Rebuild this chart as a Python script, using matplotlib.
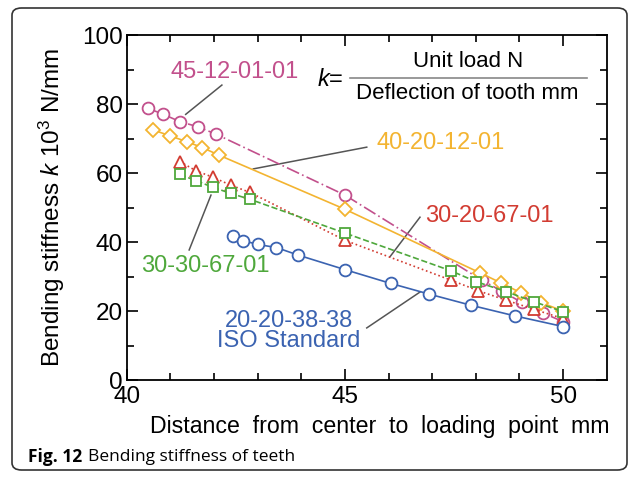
import numpy as np
import matplotlib.pyplot as plt
from matplotlib.patches import FancyBboxPatch

plt.rcParams['font.family'] = 'Liberation Sans'
plt.rcParams['mathtext.fontset'] = 'custom'
plt.rcParams['mathtext.rm'] = 'Liberation Sans'
plt.rcParams['mathtext.it'] = 'Liberation Sans:italic'

# data
x_451201 = [40.48, 40.84, 41.22, 41.63, 42.04, 45.0, 48.13, 48.59, 49.05, 49.53, 50.0]
y_451201 = [78.8, 77.0, 74.9, 73.4, 71.3, 53.6, 29.0, 25.8, 22.5, 19.5, 16.9]
x_402012 = [40.6, 40.99, 41.37, 41.73, 42.11, 45.0, 48.09, 48.57, 49.03, 49.5, 50.0]
y_402012 = [72.5, 70.8, 69.1, 67.4, 65.2, 49.5, 31.1, 28.2, 25.3, 22.4, 20.0]
x_302067 = [41.22, 41.58, 41.97, 42.38, 42.82, 45.0, 47.42, 48.05, 48.68, 49.33, 50.0]
y_302067 = [63.3, 60.7, 58.8, 56.5, 54.4, 40.5, 29.0, 25.9, 23.2, 20.5, 17.8]
x_303067 = [41.22, 41.58, 41.97, 42.38, 42.82, 45.0, 47.42, 48.01, 48.7, 49.33, 50.0]
y_303067 = [59.6, 57.8, 55.9, 54.1, 52.4, 42.6, 31.7, 28.5, 25.6, 22.7, 19.8]
x_iso = [42.43, 42.67, 43.0, 43.43, 43.93, 45.0, 46.05, 46.93, 47.88, 48.89, 50.0]
y_iso = [41.8, 40.4, 39.3, 38.4, 36.2, 32.0, 28.0, 24.9, 21.7, 18.6, 15.5]

c_mag = '#c2508c'
c_yel = '#f3b431'
c_red = '#d23c32'
c_grn = '#4fa83c'
c_blu = '#3b63b1'

fig = plt.figure(figsize=(6.37, 4.8), dpi=100)
ax = fig.add_axes([0.199, 0.2083, 0.7535, 0.7187])

ms = 8.5
ax.plot(x_451201, y_451201, color=c_mag, lw=1.2, dashes=[8, 2, 1, 2], marker='o', ms=ms,
        mfc='white', mew=1.3, zorder=3)
ax.plot(x_402012, y_402012, color=c_yel, lw=1.2, ls='-', marker='D', ms=ms - 1,
        mfc='white', mew=1.3, zorder=3)
ax.plot(x_302067, y_302067, color=c_red, lw=1.2, ls=':', marker='^', ms=ms,
        mfc='white', mew=1.3, zorder=3)
ax.plot(x_303067, y_303067, color=c_grn, lw=1.2, ls='--', marker='s', ms=ms - 1,
        mfc='white', mew=1.3, zorder=3)
ax.plot(x_iso, y_iso, color=c_blu, lw=1.2, ls='-', marker='o', ms=ms,
        mfc='white', mew=1.3, zorder=3)

ax.set_xlim(40, 51)
ax.set_ylim(0, 100)
ax.set_xticks([40, 45, 50])
ax.set_xticks(np.arange(41, 51, 1), minor=True)
ax.set_yticks(np.arange(0, 101, 20))
ax.set_yticks(np.arange(10, 100, 20), minor=True)
ax.tick_params(which='both', direction='in', top=True, right=True, labelsize=17.5, width=1.2)
ax.tick_params(axis='x', pad=4)
ax.tick_params(axis='y', pad=3)
ax.tick_params(which='major', length=8)
ax.tick_params(which='minor', length=5)
for s in ax.spines.values():
    s.set_linewidth(1.3)
ax.set_xlabel('Distance  from  center  to  loading  point  mm', fontsize=16.7)
ax.xaxis.set_label_coords(0.528, -0.1)
ax.set_ylabel('Bending stiffness $k$ 10$^3$ N/mm', fontsize=17.5)
ax.yaxis.set_label_coords(-0.125, 0.5)

# labels with leader lines
lc = '#555555'
fs = 17
ax.plot([41.35, 42.18], [77.0, 85.5], color=lc, lw=1.1, zorder=2)
ax.text(42.48, 89.3, '45-12-01-01', color=c_mag, fontsize=fs, ha='center', va='center')
ax.plot([42.9, 45.5], [61.2, 67.5], color=lc, lw=1.1, zorder=2)
ax.text(47.2, 68.7, '40-20-12-01', color=c_yel, fontsize=fs, ha='center', va='center')
ax.plot([46.03, 46.72], [35.7, 47.2], color=lc, lw=1.1, zorder=2)
ax.text(48.3, 47.5, '30-20-67-01', color=c_red, fontsize=fs, ha='center', va='center')
ax.plot([41.93, 41.43], [53.6, 37.7], color=lc, lw=1.1, zorder=2)
ax.text(41.8, 33.0, '30-30-67-01', color=c_grn, fontsize=fs, ha='center', va='center')
ax.plot([45.5, 46.72], [15.1, 25.5], color=lc, lw=1.1, zorder=2)
ax.text(43.72, 14.2, '20-20-38-38\nISO Standard', color=c_blu, fontsize=fs, ha='center',
        va='center', linespacing=0.9)

# formula
ax.text(44.66, 87.0, '$k$=', fontsize=17, ha='center', va='center')
ax.plot([45.12, 50.55], [87.5, 87.5], color='#888888', lw=1.2)
ax.text(47.82, 92.4, 'Unit load N', fontsize=16, ha='center', va='center')
ax.text(47.8, 83.0, 'Deflection of tooth mm', fontsize=16, ha='center', va='center')

# frame and caption
fig.patches.append(FancyBboxPatch((12 / 637, 10 / 480), 615 / 637, 462 / 480,
                                  boxstyle='round,pad=0,rounding_size=0.015',
                                  transform=fig.transFigure, fill=False,
                                  ec='#333333', lw=1.2))
cap = fig.text(28 / 637, 1 - 457 / 480, 'Fig. 12', fontsize=12.5, fontweight='bold',
               family='Open Sans', va='center')
fig.canvas.draw()
ax.annotate('Bending stiffness of teeth', xy=(1, 0.5), xycoords=cap, xytext=(4, 0),
            textcoords='offset points', fontsize=12.5, family='Open Sans', va='center',
            annotation_clip=False)

fig.savefig('out.png', dpi=100)
